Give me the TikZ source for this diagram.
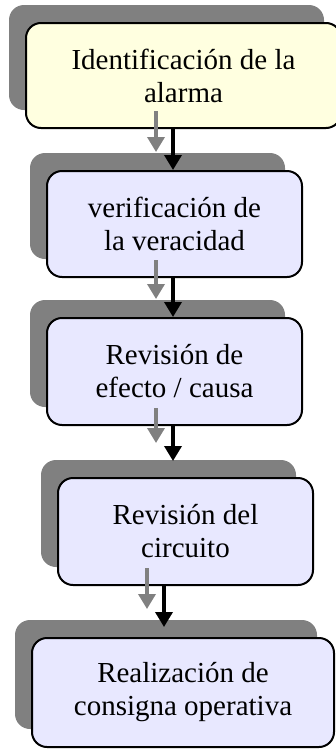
\documentclass[tikz,border=0pt]{standalone}
\usepackage{fontspec}
\setmainfont{Liberation Serif}
\usetikzlibrary{arrows.meta,shadows}
\definecolor{alarmfill}{HTML}{FFFFE0}
\definecolor{stepfill}{HTML}{E8E8FF}
\definecolor{shadowgray}{HTML}{808080}
\begin{document}
\begin{tikzpicture}[x=1pt, y=-1pt,
	box/.style={draw, line width=2pt, rounded corners=15pt, align=center, inner sep=0pt,
		font=\fontsize{29}{33}\selectfont, fill=stepfill,
		minimum width=255pt, minimum height=106pt,
		drop shadow={shadow xshift=-17pt, shadow yshift=18pt, fill=shadowgray, opacity=1}},
	flow/.style={line width=3.5pt, -{Triangle[width=17pt,length=15pt]}},
	flowshadow/.style={flow, draw=shadowgray, transform canvas={xshift=-17pt, yshift=18pt}}]
	\useasboundingbox (0,0) rectangle (336,750);
	% boxes
	\node[box, fill=alarmfill, minimum width=315pt, minimum height=105pt] (alarma) at (183.5,75.5) {Identificación de la\\alarma};
	\node[box] (veracidad) at (174.5,224) {verificación de\\la veracidad};
	\node[box, minimum height=107pt] (efecto) at (174.5,371.5) {Revisión de\\efecto / causa};
	\node[box, minimum height=107pt] (circuito) at (185.5,531.5) {Revisión del\\circuito};
	\node[box, minimum width=302pt, minimum height=109pt] (consigna) at (183,692.5) {Realización de\\consigna operativa};
	% arrows, shadow first
	\draw[flowshadow] (alarma.south -| 173,0) -- (veracidad.north -| 173,0);
	\draw[flow] (alarma.south -| 173,0) -- (veracidad.north -| 173,0);
	\draw[flowshadow] (veracidad.south -| 173,0) -- (efecto.north -| 173,0);
	\draw[flow] (veracidad.south -| 173,0) -- (efecto.north -| 173,0);
	\draw[flowshadow, shorten >=16pt] (efecto.south -| 173,0) -- (circuito.north -| 173,0);
	\draw[flow, shorten >=16pt] (efecto.south -| 173,0) -- (circuito.north -| 173,0);
	\draw[flowshadow, shorten >=10pt] (circuito.south -| 164,0) -- (consigna.north -| 164,0);
	\draw[flow, shorten >=10pt] (circuito.south -| 164,0) -- (consigna.north -| 164,0);
\end{tikzpicture}
\end{document}
